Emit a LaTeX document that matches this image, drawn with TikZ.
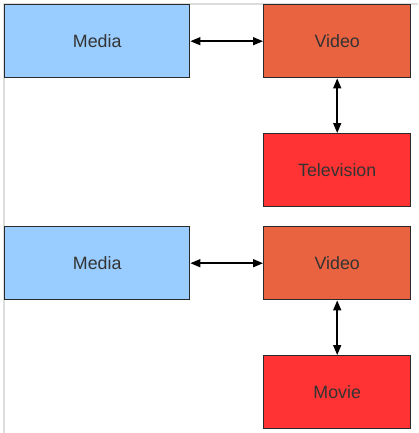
\documentclass[tikz,border=0pt]{standalone}
\usepackage{fontspec}
\setmainfont{Liberation Sans}
\usetikzlibrary{arrows.meta}
\definecolor{mediafill}{HTML}{99CCFF}
\definecolor{videofill}{HTML}{E96340}
\definecolor{tvfill}{HTML}{FF3333}
\definecolor{boxline}{HTML}{2A2A2A}
\definecolor{txt}{HTML}{333333}
\definecolor{frame}{HTML}{DDDDDD}
\tikzset{
  box/.style={draw=boxline, line width=1.4pt, anchor=north west, inner sep=0pt,
    text=txt, font=\fontsize{17.8}{20}\selectfont},
  mediabox/.style={box, fill=mediafill, minimum width=185pt, minimum height=73pt},
  videobox/.style={box, fill=videofill, minimum width=147pt, minimum height=73pt},
  tvbox/.style={box, fill=tvfill, minimum width=147pt, minimum height=73pt},
  link/.style={line width=1.5pt, draw=black, {Triangle[length=10pt,width=8pt]}-{Triangle[length=10pt,width=8pt]}}
}
\begin{document}
\begin{tikzpicture}[x=1pt,y=-1pt]
\useasboundingbox (0,0) rectangle (418,433);
\draw[frame, line width=1.5pt] (4,433) -- (4,4) -- (418,4);
\node[mediabox] (m1) at (4,4) {Media};
\node[videobox] (v1) at (263,4) {Video};
\node[tvbox] (t1) at (263,133) {Television};
\node[mediabox] (m2) at (4,226) {Media};
\node[videobox] (v2) at (263,226) {Video};
\node[tvbox] (t2) at (263,355) {Movie};
\draw[link] (m1.east) -- (v1.west);
\draw[link] (v1.south) -- (t1.north);
\draw[link] (m2.east) -- (v2.west);
\draw[link] (v2.south) -- (t2.north);
\end{tikzpicture}
\end{document}
